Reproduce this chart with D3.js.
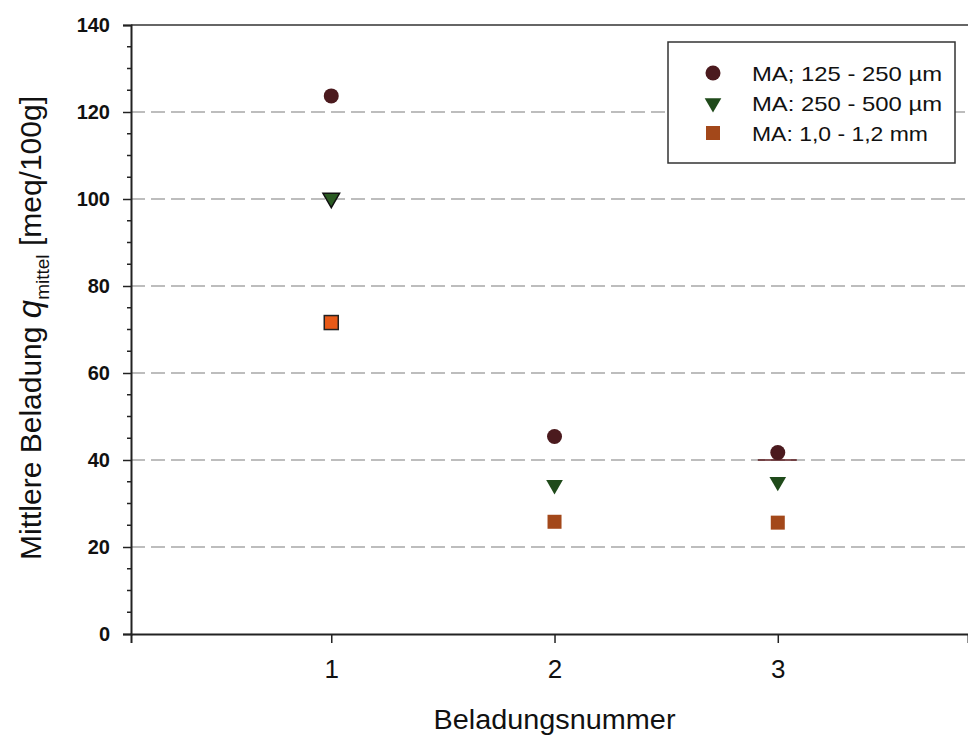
<!DOCTYPE html>
<html><head><meta charset="utf-8">
<script src="https://cdn.jsdelivr.net/npm/d3@7"></script>
<style>body{margin:0;background:#fff}svg{display:block}</style>
</head><body>
<script>
const categories = [1, 2, 3];
const seriesNames = ["MA; 125 - 250 µm", "MA: 250 - 500 µm", "MA: 1,0 - 1,2 mm"];
const circleValues = [123.7, 45.4, 41.7];
const triangleValues = [100.2, 34.3, 35.0];
const squareValues = [71.6, 25.8, 25.6];
const yTicks = [0, 20, 40, 60, 80, 100, 120, 140];
const gridValues = [20, 40, 60, 80, 100, 120];
const meanMark = {x: 3, y: 40};

(function () {
const W = 968, H = 735;
const svg = d3.select("body").append("svg").attr("width", W).attr("height", H);
const mLeft = 131, mTop = 25, mBottom = 634, mRight = 968;
const x = d3.scaleLinear().domain([0.103, 3.852]).range([mLeft, mRight]);
const y = d3.scaleLinear().domain([0, 140]).range([mBottom, mTop]);
const font = "Arial, 'Liberation Sans', sans-serif";

// grid
svg.append("g").selectAll("line").data(gridValues).join("line")
  .attr("x1", mLeft).attr("x2", mRight).attr("y1", d => y(d)).attr("y2", d => y(d))
  .attr("stroke", "#a8a8a8").attr("stroke-width", 1.3).attr("stroke-dasharray", "14,6");

// top frame
svg.append("line").attr("x1", mLeft).attr("x2", mRight).attr("y1", y(140)).attr("y2", y(140))
  .attr("stroke", "#333").attr("stroke-width", 1.5);

// y axis
const yAxis = svg.append("g").attr("transform", `translate(${mLeft},0)`)
  .call(d3.axisLeft(y).tickValues(yTicks).tickSize(8).tickPadding(13));
yAxis.select(".domain").attr("stroke", "#222").attr("stroke-width", 2);
yAxis.selectAll(".tick line").attr("stroke", "#222").attr("stroke-width", 1.5);
yAxis.selectAll("text").attr("font-family", font).attr("font-size", 20).attr("font-weight", "bold").attr("fill", "#111");
const minor = d3.range(0, 141, 5).filter(v => v % 20 !== 0);
svg.append("g").selectAll("line").data(minor).join("line")
  .attr("x1", mLeft - 4).attr("x2", mLeft).attr("y1", d => y(d)).attr("y2", d => y(d))
  .attr("stroke", "#222").attr("stroke-width", 1.5);

// x axis
const xAxis = svg.append("g").attr("transform", `translate(0,${mBottom})`)
  .call(d3.axisBottom(x).tickValues(categories).tickFormat(d3.format("d")).tickSize(9).tickPadding(17));
xAxis.select(".domain").attr("stroke", "#222").attr("stroke-width", 2);
xAxis.selectAll(".tick line").attr("stroke", "#222").attr("stroke-width", 1.5);
xAxis.selectAll("text").attr("font-family", font).attr("font-size", 26).attr("fill", "#111");

// mean mark
svg.append("line").attr("x1", x(meanMark.x) - 20).attr("x2", x(meanMark.x) + 19)
  .attr("y1", y(meanMark.y)).attr("y2", y(meanMark.y)).attr("stroke", "#5a1a1e").attr("stroke-width", 1.5);

const colCircle = "#4b1a1e", colTri = "#1f4a1a", colSq = "#a3481a";
const tri = d3.symbol().type(d3.symbolTriangle).size(120);

// circles
svg.append("g").selectAll("circle").data(categories).join("circle")
  .attr("cx", d => x(d)).attr("cy", (d, i) => y(circleValues[i])).attr("r", 7.5).attr("fill", colCircle);
// triangles (downward)
svg.append("g").selectAll("path").data(categories).join("path")
  .attr("d", tri).attr("transform", (d, i) => `translate(${x(d)},${y(triangleValues[i])}) rotate(180)`)
  .attr("fill", (d, i) => i === 0 ? "#2a5a22" : colTri)
  .attr("stroke", (d, i) => i === 0 ? "#111" : "none").attr("stroke-width", 1.5);
// squares
svg.append("g").selectAll("rect").data(categories).join("rect")
  .attr("x", d => x(d) - 7).attr("y", (d, i) => y(squareValues[i]) - 7)
  .attr("width", 14).attr("height", 14)
  .attr("fill", (d, i) => i === 0 ? "#e85a18" : colSq)
  .attr("stroke", (d, i) => i === 0 ? "#222" : "none").attr("stroke-width", 1.5);

// legend
const lg = svg.append("g");
lg.append("rect").attr("x", 668).attr("y", 42).attr("width", 287).attr("height", 121)
  .attr("fill", "#fff").attr("stroke", "#333").attr("stroke-width", 1.5);
const rows = [73, 103, 133];
const legWidths = [190, 190, 176];
lg.append("circle").attr("cx", 713).attr("cy", rows[0]).attr("r", 7.5).attr("fill", colCircle);
lg.append("path").attr("d", tri).attr("transform", `translate(713,${rows[1]}) rotate(180)`).attr("fill", colTri);
lg.append("rect").attr("x", 706).attr("y", rows[2] - 7).attr("width", 14).attr("height", 14).attr("fill", colSq);
lg.selectAll("text").data(seriesNames).join("text")
  .attr("x", 752).attr("y", (d, i) => rows[i] + 7.5).text(d => d)
  .attr("textLength", (d, i) => legWidths[i]).attr("lengthAdjust", "spacingAndGlyphs")
  .attr("font-family", font).attr("font-size", 21).attr("fill", "#111");

// axis titles
svg.append("text").attr("x", x(2)).attr("y", 729).attr("text-anchor", "middle")
  .attr("textLength", 242).attr("lengthAdjust", "spacingAndGlyphs")
  .attr("font-family", font).attr("font-size", 27).attr("fill", "#111").text("Beladungsnummer");
const yt = svg.append("text").attr("transform", "translate(41,328) rotate(-90)").attr("text-anchor", "middle")
  .attr("font-family", font).attr("font-size", 30).attr("fill", "#111");
yt.append("tspan").text("Mittlere Beladung ");
yt.append("tspan").attr("font-style", "italic").attr("font-size", 33).text("q");
yt.append("tspan").attr("font-size", 19).attr("dy", 8).text("mittel");
yt.append("tspan").attr("dy", -8).text(" [meq/100g]");
})();
</script>
</body></html>
